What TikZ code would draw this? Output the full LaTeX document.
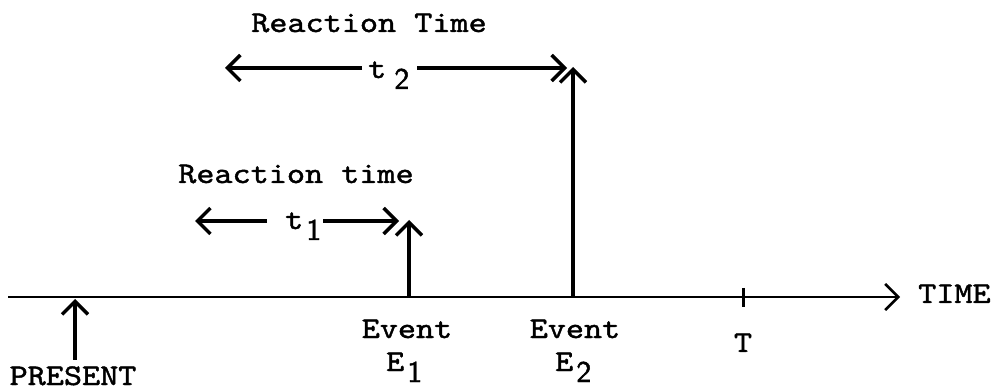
\documentclass[tikz,border=0pt]{standalone}
\usepackage{fontspec}
\usetikzlibrary{arrows.meta}
\newfontfamily\twfont{lmmono10-regular.otf}[FakeStretch=1.15,FakeBold=1.4]
\newfontfamily\sdfont{lmsans10-regular.otf}[FakeBold=1.4]
\newcommand{\lowsub}[3][3pt]{#2\hspace{#1}\raisebox{-11pt}{\sdfont #3}}
\begin{document}
\begin{tikzpicture}[x=1pt,y=-1pt,
  lbl/.style={font=\fontsize{30}{36}\selectfont\twfont, inner sep=0pt, anchor=base},
  lblw/.style={lbl, anchor=base west},
  arr/.style={line width=3.4pt, -{Straight Barb[length=13pt,width=26pt]}},
  axisline/.style={line width=2.6pt, -{Straight Barb[length=13pt,width=26pt]}},
  tick/.style={line width=3pt}]
\useasboundingbox (0,0) rectangle (997,390);
% axis
\coordinate (ax0) at (8,297);
\coordinate (ax1) at (900,297);
\draw[axisline] (ax0) -- (ax1);
\node[lblw] (time) at (918,303) {TIME};
% tick T
\coordinate (tk0) at (743,288);
\coordinate (tk1) at (743,307);
\draw[tick] (tk0) -- (tk1);
\node[lbl] (tlab) at (743,352) {T};
% present
\coordinate (pr0) at (75,360);
\coordinate (pr1) at (75,299);
\draw[arr] (pr0) -- (pr1);
\node[lbl] (present) at (73,385) {PRESENT};
% event E1
\coordinate (e1b) at (409,297);
\coordinate (e1t) at (409,220);
\draw[arr] (e1b) -- (e1t);
\node[lbl] (ev1) at (407,338) {Event};
\node[lblw] (e1lab) at (386,371) {\lowsub{E}{1}};
% event E2
\coordinate (e2b) at (573,297);
\coordinate (e2t) at (573,67);
\draw[arr] (e2b) -- (e2t);
\node[lbl] (ev2) at (575,338) {Event};
\node[lblw] (e2lab) at (555,371) {\lowsub{E}{2}};
% reaction time t1
\node[lbl] (rt1) at (296,183) {Reaction time};
\node[lblw] (t1) at (285,229) {\lowsub{t}{1}};
\coordinate (t1l0) at (267,221);
\coordinate (t1l1) at (195,221);
\coordinate (t1r0) at (323,221);
\coordinate (t1r1) at (399,221);
\draw[arr] (t1l0) -- (t1l1);
\draw[arr] (t1r0) -- (t1r1);
% reaction time t2
\node[lbl] (rt2) at (369,32) {Reaction Time};
\node[lblw] (t2) at (368,78) {\lowsub[8pt]{t}{2}};
\coordinate (t2l0) at (362,68);
\coordinate (t2l1) at (225,68);
\coordinate (t2r0) at (417,68);
\coordinate (t2r1) at (567,68);
\draw[arr] (t2l0) -- (t2l1);
\draw[arr] (t2r0) -- (t2r1);
\end{tikzpicture}
\end{document}
